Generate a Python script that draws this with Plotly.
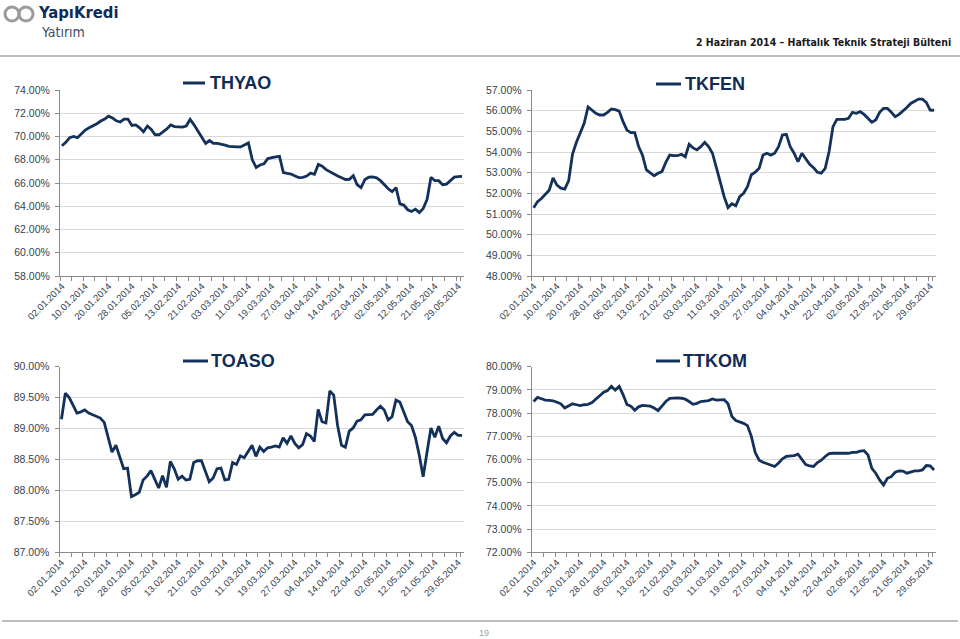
import plotly.graph_objects as go

W, H = 960, 639

# ---------------- data ----------------
jan_days = ["02", "03", "06", "07", "08", "09", "10", "13", "14", "15", "16", "17", "20", "21", "22",
            "23", "24", "27", "28", "29", "30", "31"]
feb_days = ["03", "04", "05", "06", "07", "10", "11", "12", "13", "14", "17", "18", "19", "20", "21",
            "24", "25", "26", "27", "28"]
mar_days = ["03", "04", "05", "06", "07", "10", "11", "12", "13", "14", "17", "18", "19", "20", "21",
            "24", "25", "26", "27", "28", "31"]
apr_days = ["01", "02", "03", "04", "07", "08", "09", "10", "11", "14", "15", "16", "17", "18", "21",
            "22", "24", "25", "28", "29", "30"]
may_days = ["02", "05", "06", "07", "08", "09", "12", "13", "14", "15", "16", "20", "21", "22", "23",
            "26", "27", "28", "29", "30"]
dates = ([f"{d}.01.2014" for d in jan_days] + [f"{d}.02.2014" for d in feb_days] +
         [f"{d}.03.2014" for d in mar_days] + [f"{d}.04.2014" for d in apr_days] +
         [f"{d}.05.2014" for d in may_days])

thyao = [69.2, 69.5, 69.9, 70.0, 69.9, 70.2, 70.55, 70.75, 70.9, 71.1,
         71.33, 71.5, 71.75, 71.6, 71.35, 71.25, 71.5, 71.5, 70.95, 71.0,
         70.75, 70.4, 70.9, 70.6, 70.15, 70.15, 70.4, 70.65, 71.0, 70.85,
         70.83, 70.8, 70.9, 71.47, 71.0, 70.45, 69.9, 69.4, 69.65, 69.4,
         69.4, 69.35, 69.25, 69.15, 69.1, 69.1, 69.1, 69.25, 69.45, 68.0,
         67.33, 67.55, 67.65, 68.1, 68.2, 68.24, 68.3, 66.9, 66.83, 66.77,
         66.6, 66.46, 66.49, 66.6, 66.85, 66.75, 67.6, 67.45, 67.15, 66.95,
         66.8, 66.6, 66.45, 66.3, 66.32, 66.63, 65.85, 65.6, 66.3, 66.5,
         66.52, 66.45, 66.2, 65.85, 65.5, 65.25, 65.6, 64.2, 64.1, 63.7,
         63.55, 63.75, 63.45, 63.8, 64.6, 66.5, 66.2, 66.2, 65.85, 65.9,
         66.2, 66.5, 66.55, 66.57]

tkfen = [51.3, 51.6, 51.75, 51.95, 52.15, 52.75, 52.4, 52.25, 52.2, 52.6,
         53.9, 54.47, 54.98, 55.39, 56.18, 56.03, 55.87, 55.79, 55.79, 55.92,
         56.08, 56.05, 55.98, 55.47, 55.06, 54.94, 54.94, 54.26, 53.85, 53.13,
         52.97, 52.85, 52.97, 53.05, 53.5, 53.85, 53.82, 53.82, 53.89, 53.77,
         54.37, 54.2, 54.1, 54.26, 54.47, 54.26, 53.94, 53.3, 52.56, 51.84,
         51.31, 51.5, 51.4, 51.84, 52.0, 52.32, 52.9, 53.02, 53.21, 53.85,
         53.94, 53.85, 53.94, 54.26, 54.82, 54.85, 54.26, 53.94, 53.53, 53.94,
         53.66, 53.4, 53.24, 53.02, 52.98, 53.21, 54.02, 55.23, 55.58, 55.58,
         55.58, 55.63, 55.92, 55.87, 55.95, 55.82, 55.63, 55.44, 55.55, 55.92,
         56.11, 56.11, 55.92, 55.71, 55.82, 55.98, 56.15, 56.35, 56.44, 56.56,
         56.56, 56.4, 56.03, 56.02]

toaso = [89.15, 89.57, 89.5, 89.38, 89.25, 89.27, 89.3, 89.25, 89.22, 89.2,
         89.17, 89.1, 88.85, 88.62, 88.73, 88.55, 88.35, 88.36, 87.9, 87.93,
         87.97, 88.17, 88.23, 88.32, 88.18, 88.04, 88.24, 88.05, 88.47, 88.35,
         88.18, 88.23, 88.17, 88.18, 88.45, 88.48, 88.48, 88.3, 88.14, 88.2,
         88.35, 88.36, 88.17, 88.18, 88.45, 88.42, 88.56, 88.53, 88.64, 88.73,
         88.55, 88.7, 88.63, 88.69, 88.7, 88.72, 88.7, 88.85, 88.76, 88.88,
         88.76, 88.69, 88.74, 88.92, 88.88, 88.79, 89.31, 89.11, 89.09, 89.61,
         89.54, 89.05, 88.73, 88.7, 88.96, 89.01, 89.12, 89.14, 89.22, 89.23,
         89.23, 89.3, 89.36, 89.3, 89.14, 89.19, 89.46, 89.43, 89.27, 89.11,
         89.05, 88.86, 88.57, 88.22, 88.62, 89.01, 88.86, 89.04, 88.84, 88.77,
         88.88, 88.94, 88.89, 88.89]

ttkom = [78.5, 78.68, 78.62, 78.56, 78.55, 78.53, 78.47, 78.4, 78.22, 78.3,
         78.4, 78.36, 78.32, 78.36, 78.38, 78.45, 78.62, 78.75, 78.9, 78.97,
         79.16, 78.99, 79.15, 78.8, 78.37, 78.3, 78.12, 78.27, 78.33, 78.3,
         78.3, 78.22, 78.11, 78.3, 78.5, 78.63, 78.66, 78.66, 78.64, 78.6,
         78.5, 78.38, 78.42, 78.5, 78.52, 78.54, 78.61, 78.56, 78.57, 78.58,
         78.4, 77.85, 77.68, 77.62, 77.56, 77.46, 77.0, 76.3, 75.97, 75.88,
         75.82, 75.77, 75.7, 75.85, 76.03, 76.13, 76.15, 76.17, 76.23, 76.0,
         75.78, 75.72, 75.7, 75.87, 75.97, 76.13, 76.25, 76.27, 76.27, 76.3,
         76.28, 76.27, 76.31, 76.31, 76.36, 76.38, 76.2, 75.62, 75.41, 75.12,
         74.9, 75.19, 75.26, 75.45, 75.51, 75.5, 75.41, 75.46, 75.51, 75.51,
         75.55, 75.74, 75.73, 75.55]

series_names = ["THYAO", "TKFEN", "TOASO", "TTKOM"]
series_values = [thyao, tkfen, toaso, ttkom]
y_ranges = [(58, 74), (48, 57), (87, 90), (72, 80)]
y_steps = [2, 1, 0.5, 1]

header_right = "2 Haziran 2014 \u2013 Haftalık Teknik Strateji Bülteni"
page_number = "19"

# ---------------- layout helpers (pixel -> paper) ----------------
def px(x):
    return x / W


def py(y):
    return 1 - y / H


LINE = "#13315b"
TICKC = "#333f52"
AXC = "#8a8a8a"
GRID = "#d9d9d9"
FONT = "Arial, Liberation Sans, sans-serif"
NARROW = "Liberation Sans Narrow, DejaVu Sans Condensed, Arial Narrow, sans-serif"

# panel geometry in pixels: (x0, x1, ytop, ybottom), key (dash x0, dash x1, text x, y, box x0, box x1)
geo = [
    ((60, 464, 90, 276), (183, 205, 208, 83, 177, 277)),
    ((531.7, 936, 90, 276), (656, 681, 683, 84, 648, 750)),
    ((59.5, 464, 366.7, 552.3), (183, 208, 209, 361, 176, 277)),
    ((531.7, 936, 366.7, 552.3), (656, 680, 681, 361, 648, 748)),
]

fig = go.Figure()
shapes = []
annotations = []

tickvals = dates[::3]
ticktext = [dates[i] if i % 6 == 0 else "" for i in range(0, len(dates), 3)]

for k, (name, vals) in enumerate(zip(series_names, series_values)):
    sfx = "" if k == 0 else str(k + 1)
    (x0, x1, yt, yb), (d0, d1, tx, ty, b0, b1) = geo[k]
    fig.add_trace(go.Scatter(x=dates, y=vals, mode="lines", name=name,
                             line=dict(color=LINE, width=2.8),
                             xaxis="x" + sfx, yaxis="y" + sfx, showlegend=False,
                             hoverinfo="skip"))
    lo, hi = y_ranges[k]
    fig.layout["xaxis" + sfx] = dict(
        domain=[px(x0), px(x1)], anchor="y" + sfx, type="category", automargin=False,
        range=[-0.5, len(dates) - 0.5], tickmode="array", tickvals=tickvals,
        ticktext=ticktext, tickson="boundaries", ticks="outside", ticklen=4,
        tickcolor=AXC, tickangle=-45, tickfont=dict(family=FONT, size=9.5, color=TICKC),
        showline=True, linecolor=AXC, linewidth=1, showgrid=False, zeroline=False,
        fixedrange=True)
    fig.layout["yaxis" + sfx] = dict(
        domain=[py(yb), py(yt)], anchor="x" + sfx, range=[lo, hi], dtick=y_steps[k],
        tick0=lo, tickformat=".2f", ticksuffix="%", ticks="outside", ticklen=4,
        automargin=False,
        tickcolor=AXC, tickfont=dict(family=FONT, size=10.5, color=TICKC),
        showline=True, linecolor=AXC, linewidth=1, showgrid=True, gridcolor=GRID,
        gridwidth=1, zeroline=False, fixedrange=True, ticklabelstandoff=3)
    # legend-like key (white box, dash, bold label)
    shapes.append(dict(type="rect", xref="paper", yref="paper", x0=px(b0), x1=px(b1),
                       y0=py(ty + 10), y1=py(ty - 10), fillcolor="white",
                       line=dict(width=0), layer="above"))
    shapes.append(dict(type="line", xref="paper", yref="paper", x0=px(d0), x1=px(d1),
                       y0=py(ty), y1=py(ty), line=dict(color=LINE, width=3), layer="above"))
    annotations.append(dict(text="<b>" + name + "</b>", xref="paper", yref="paper",
                            x=px(tx), y=py(ty), xanchor="left", yanchor="middle",
                            showarrow=False, font=dict(family=FONT, size=18, color="#112c55")))

# header
shapes.append(dict(type="circle", xref="paper", yref="paper", x0=px(5), x1=px(19),
                   y0=py(21), y1=py(7), line=dict(color="#9b9b9b", width=3)))
shapes.append(dict(type="circle", xref="paper", yref="paper", x0=px(19), x1=px(33),
                   y0=py(21), y1=py(7), line=dict(color="#9b9b9b", width=3)))
annotations.append(dict(text="<b>YapıKredi</b>", xref="paper", yref="paper", x=px(36), y=py(13),
                        xanchor="left", yanchor="middle", showarrow=False,
                        font=dict(family=NARROW, size=16.5, color="#0f2b57")))
annotations.append(dict(text="Yatırım", xref="paper", yref="paper", x=px(39), y=py(32),
                        xanchor="left", yanchor="middle", showarrow=False,
                        font=dict(family=NARROW, size=14, color="#3e4b66")))
annotations.append(dict(text="<b>" + header_right + "</b>", xref="paper", yref="paper",
                        x=px(953), y=py(42), xanchor="right", yanchor="middle", showarrow=False,
                        font=dict(family=NARROW, size=10.5, color="#1a1a1a")))
shapes.append(dict(type="line", xref="paper", yref="paper", x0=0, x1=1, y0=py(56), y1=py(56),
                   line=dict(color="#bdbdbd", width=2)))
# footer
shapes.append(dict(type="line", xref="paper", yref="paper", x0=px(2), x1=px(958), y0=py(621),
                   y1=py(621), line=dict(color="#bdbdbd", width=2)))
annotations.append(dict(text=page_number, xref="paper", yref="paper", x=px(484), y=py(633),
                        xanchor="center", yanchor="middle", showarrow=False,
                        font=dict(family=FONT, size=9, color="#a0a0a0")))

fig.update_layout(template="none", width=W, height=H, margin=dict(l=0, r=0, t=0, b=0, autoexpand=False),
                  paper_bgcolor="white", plot_bgcolor="white", shapes=shapes,
                  annotations=annotations, showlegend=False)

fig.write_html("out.html", config={"displayModeBar": False},
               post_script="document.body.style.margin='0';document.body.style.overflow='hidden';")
